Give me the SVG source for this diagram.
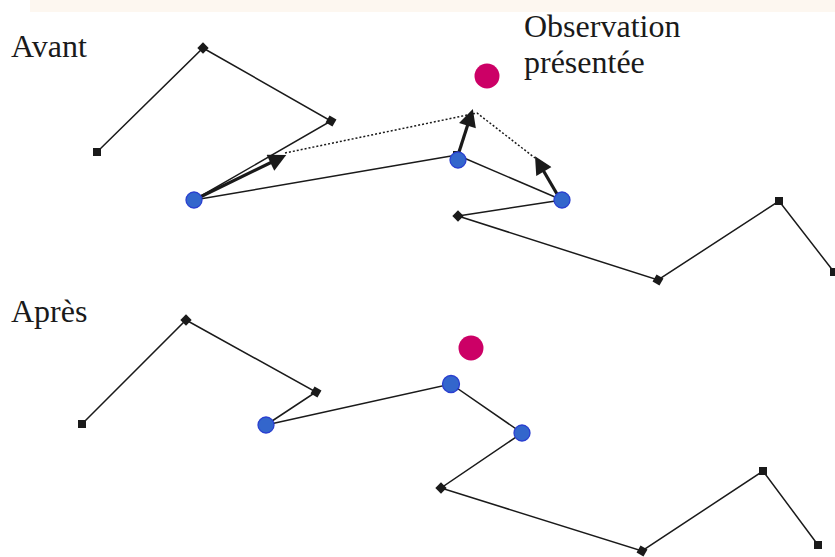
<svg xmlns="http://www.w3.org/2000/svg" width="835" height="557" viewBox="0 0 835 557">
<style>
.seg{stroke:#1a1a1a;stroke-width:1.5;fill:none}
.dot{stroke:#1a1a1a;stroke-width:1.5;stroke-dasharray:2,2;fill:none}
.arr{stroke:#1a1a1a;stroke-width:3.2;fill:none}
.sq{fill:#1a1a1a}
.blue{fill:#3366cc;stroke:#2a3fd0;stroke-width:1.3}
.obs{fill:#cc0066}
.lbl{font-family:"Liberation Serif","Times New Roman",serif;font-size:32px;fill:#1a1a1a}
</style>
<defs>
<marker id="ah" viewBox="0 0 10 10" refX="1" refY="5" markerWidth="6" markerHeight="5.5" orient="auto" markerUnits="strokeWidth">
<path d="M0,0 L10,5 L0,10 Z" fill="#1a1a1a"/>
</marker>
</defs>
<rect x="30" y="0" width="805" height="12" fill="#fdf7f0"/>
<g id="connectors">
<polyline class="seg" points="97,152 203,48 331,121 194,200 457,155"/>
<polyline class="seg" points="562,200 458,216 658,280 779,201 834,272"/>
<line class="seg" x1="457" y1="155" x2="562" y2="200"/>
<polyline class="dot" points="285,153 477,113 535,158"/>
<line class="arr" x1="196" y1="199" x2="272" y2="162" marker-end="url(#ah)"/>
<line class="arr" x1="459" y1="152" x2="468" y2="124" marker-end="url(#ah)"/>
<line class="arr" x1="557" y1="194" x2="543" y2="170" marker-end="url(#ah)"/>
<polyline class="seg" points="82,424 186,320 316,392 266,425 451,384 522,433 441,488 642,551 763,471 818,545"/>
</g>
<g id="label-avant"><text class="lbl" x="11" y="57">Avant</text></g>
<g id="label-observation"><text class="lbl" x="524" y="37">Observation</text><text class="lbl" x="524" y="73">présentée</text></g>
<g id="label-apres"><text class="lbl" x="11" y="322">Après</text></g>
<g id="obs-avant"><circle class="obs" cx="487" cy="76" r="12.5"/></g>
<g id="obs-apres"><circle class="obs" cx="471" cy="348" r="12.5"/></g>
<g id="a1"><rect class="sq" x="93" y="148" width="8" height="8"/></g>
<g id="a2"><rect class="sq" x="199" y="44" width="8" height="8" transform="rotate(45 203 48)"/></g>
<g id="a3"><rect class="sq" x="327" y="117" width="8" height="8" transform="rotate(30 331 121)"/></g>
<g id="a5sq"><rect class="sq" x="453" y="151" width="7" height="7"/></g>
<g id="a4"><circle class="blue" cx="194" cy="200" r="8"/></g>
<g id="a5"><circle class="blue" cx="458" cy="160" r="8"/></g>
<g id="a6"><circle class="blue" cx="562" cy="200" r="8"/></g>
<g id="a7"><rect class="sq" x="454" y="212" width="8" height="8" transform="rotate(45 458 216)"/></g>
<g id="a8"><rect class="sq" x="654" y="276" width="8" height="8" transform="rotate(30 658 280)"/></g>
<g id="a9"><rect class="sq" x="775" y="197" width="8" height="8"/></g>
<g id="a10"><rect class="sq" x="830" y="268" width="8" height="8"/></g>
<g id="b1"><rect class="sq" x="78" y="420" width="8" height="8"/></g>
<g id="b2"><rect class="sq" x="182" y="316" width="8" height="8" transform="rotate(45 186 320)"/></g>
<g id="b3"><rect class="sq" x="312" y="388" width="8" height="8" transform="rotate(30 316 392)"/></g>
<g id="b4"><circle class="blue" cx="266" cy="425" r="8"/></g>
<g id="b5"><circle class="blue" cx="451" cy="384" r="8.5"/></g>
<g id="b6"><circle class="blue" cx="522" cy="433" r="8"/></g>
<g id="b7"><rect class="sq" x="437" y="484" width="8" height="8" transform="rotate(45 441 488)"/></g>
<g id="b8"><rect class="sq" x="638" y="547" width="8" height="8" transform="rotate(30 642 551)"/></g>
<g id="b9"><rect class="sq" x="759" y="467" width="8" height="8"/></g>
<g id="b10"><rect class="sq" x="814" y="541" width="8" height="8"/></g>
</svg>
